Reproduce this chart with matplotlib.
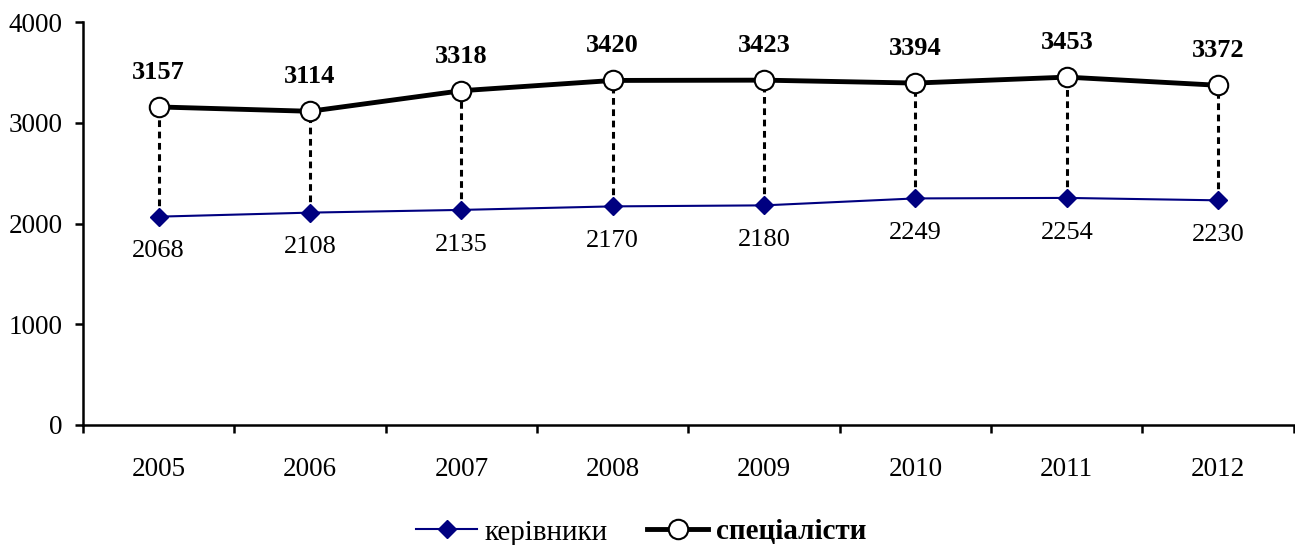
import matplotlib.pyplot as plt

plt.rcParams['font.family'] = ['Liberation Serif', 'DejaVu Serif']

years = ['2005', '2006', '2007', '2008', '2009', '2010', '2011', '2012']
managers = [2068, 2108, 2135, 2170, 2180, 2249, 2254, 2230]
specialists = [3157, 3114, 3318, 3420, 3423, 3394, 3453, 3372]

fig = plt.figure(figsize=(12.95, 5.45), dpi=100)
ax = fig.add_axes([0.0641, 0.2202, 0.935, 0.7394])

x = list(range(len(years)))

# dotted connectors between the two series
for xi, m, s in zip(x, managers, specialists):
    ax.plot([xi, xi], [m, s], color='black', linestyle=(0, (2.2, 1.5)), linewidth=2.2, zorder=1)

ax.plot(x, managers, color='#000080', marker='D', markersize=9, linewidth=1.5,
        label='керівники', zorder=3)
ax.plot(x, specialists, color='black', marker='o', markersize=14, markerfacecolor='white',
        markeredgewidth=1.5, linewidth=3.5, label='спеціалісти', zorder=3)

for xi, v in zip(x, specialists):
    ax.annotate(str(v), (xi, v), xytext=(0, 25), textcoords='offset points',
                ha='center', va='center', fontsize=19, fontweight='bold')
for xi, v in zip(x, managers):
    ax.annotate(str(v), (xi, v), xytext=(0, -25), textcoords='offset points',
                ha='center', va='center', fontsize=19)

ax.set_xlim(-0.5, 7.5)
ax.set_ylim(0, 4000)
ax.set_yticks([0, 1000, 2000, 3000, 4000])
ax.set_xticks(x)
ax.set_xticklabels(years)
ax.set_xticks([i - 0.5 for i in range(len(years) + 1)], minor=True)
ax.tick_params(axis='x', which='major', length=0, pad=23, labelsize=19.5)
ax.tick_params(axis='x', which='minor', direction='out', length=6, width=1.8)
ax.tick_params(axis='y', direction='out', length=6, width=1.8, pad=8.5, labelsize=19.5)

for side in ['top', 'right']:
    ax.spines[side].set_visible(False)
for side in ['left', 'bottom']:
    ax.spines[side].set_linewidth(1.8)

leg = fig.legend(loc='center', ncol=2, frameon=False, fontsize=21,
                 bbox_to_anchor=(641 / 1295, 1 - 532 / 545), handlelength=2.1,
                 columnspacing=1.35, handletextpad=0.25)
leg.get_texts()[1].set_fontweight('bold')

plt.savefig('out.png', dpi=100)
